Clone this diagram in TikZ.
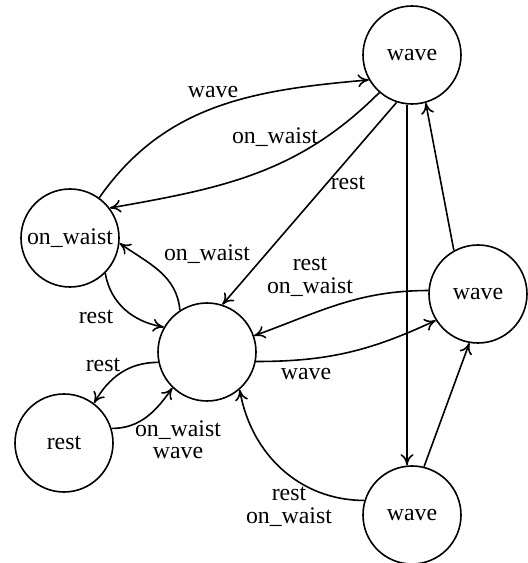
\documentclass[tikz,border=0pt]{standalone}
\usepackage{fontspec}
\setmainfont{Liberation Serif}
\usepackage{tikz}
\usetikzlibrary{arrows}
\usetikzlibrary{arrows.meta}
\tikzset{st/.style={draw,circle,thick,minimum size=49pt,inner sep=0pt},
  lb/.style={align=center,inner sep=0pt}}

\begin{document}
\begin{tikzpicture}[x=0.5pt,y=0.5pt,font=\fontsize{11.9}{11.2}\selectfont,
  >={To[length=5.5pt,width=6.5pt]}]
\useasboundingbox (0,0) rectangle (527,563);
\node[st] (wt) at (412,508) {wave};
\node[st] (ow) at (70,325) {on\_waist};
\node[st] (c) at (207,211) {};
\node[st] (r) at (64,120) {rest};
\node[st] (wr) at (478,269) {wave};
\node[st] (wb) at (412,48) {wave};
\node[lb] (l1) at (213,471) {wave};
\node[lb] (l2) at (275,426) {on\_waist};
\node[lb] (l3) at (348,380) {rest};
\node[lb] (l6) at (310,286) {rest\\on\_waist};
\node[lb] (l7) at (306,189) {wave};
\node[lb] (l9) at (289,56) {rest\\on\_waist};
\node[lb] (l10) at (96,246) {rest};
\node[lb] (l11) at (207,309) {on\_waist};
\node[lb] (l12) at (103,198) {rest};
\node[lb] (l13) at (178,123) {on\_waist\\wave};
\path[->,thick] (ow.54) edge[out=55,in=185] (wt.210);
\path[->,thick] (wt.229) edge[out=225,in=10] (ow.37);
\path[->,thick] (wt.252) edge (c.72);
\path[->,thick] ([xshift=-2.5pt]wt.south) edge ([xshift=-2.5pt]wb.north);
\path[->,thick] (wr.119) edge (wt.-74);
\path[->,thick] (wr.176) edge[out=180,in=20] (c.19);
\path[->,thick] (c.-11) edge[out=0,in=205] (wr.212);
\path[->,thick] (wb.76) edge (wr.260);
\path[->,thick] (wb.163) edge[out=180,in=-80] (c.-49);
\path[->,thick] (ow.-45) edge[out=-80,in=170] (c.150);
\path[->,thick] (c.123) edge[out=95,in=-35] (ow.-6);
\path[->,thick] (c.192) edge[out=180,in=60] (r.53);
\path[->,thick] (r.17) edge[out=0,in=235] (c.226);
\end{tikzpicture}
\end{document}
